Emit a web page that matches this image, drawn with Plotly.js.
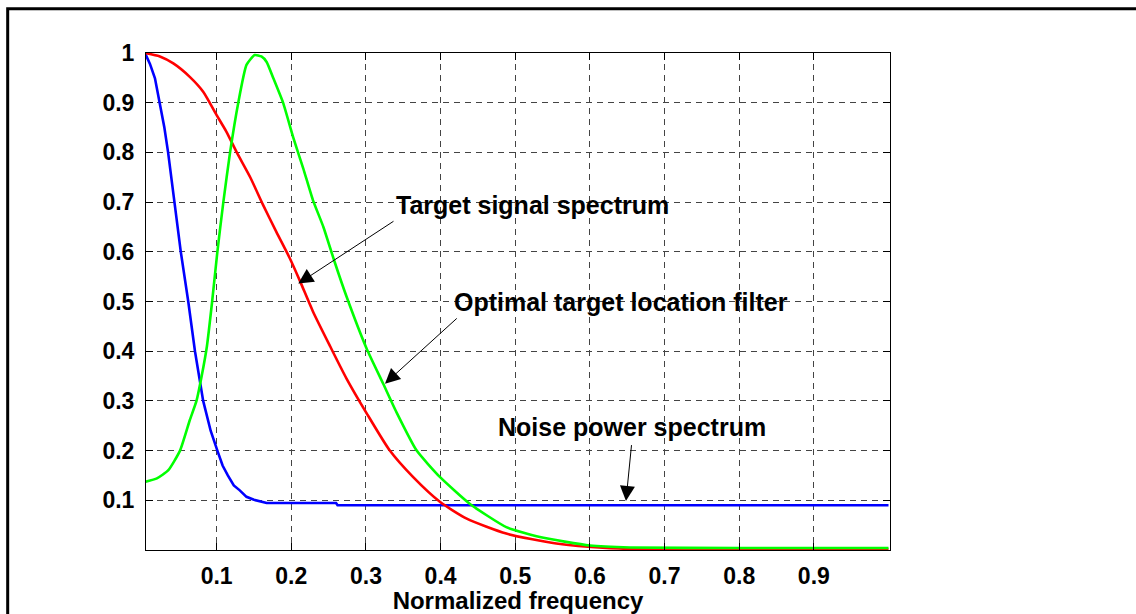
<!DOCTYPE html>
<html>
<head>
<meta charset="utf-8">
<script src="https://cdn.plot.ly/plotly-3.0.1.min.js"></script>
<style>html,body{margin:0;padding:0;background:#fff;}#chart{width:1136px;height:614px;}</style>
</head>
<body>
<div id="chart"></div>
<script>
// Normalized frequency samples and spectra
var noiseX = [0.004, 0.0107, 0.0174, 0.024, 0.030, 0.035, 0.043, 0.052, 0.062, 0.071, 0.082, 0.092, 0.101, 0.108, 0.115, 0.123, 0.131, 0.140, 0.150, 0.160, 0.167, 0.20, 0.26, 0.262, 0.50, 1.0];
var noiseY = [1.0, 0.978, 0.949, 0.90, 0.85, 0.80, 0.70, 0.60, 0.50, 0.40, 0.30, 0.24, 0.20, 0.17, 0.15, 0.13, 0.12, 0.107, 0.101, 0.097, 0.0946, 0.0946, 0.0946, 0.090, 0.090, 0.090];

var signalX = [0.004, 0.024, 0.042, 0.064, 0.082, 0.100, 0.113, 0.127, 0.145, 0.162, 0.180, 0.198, 0.212, 0.229, 0.252, 0.274, 0.301, 0.332, 0.363, 0.399, 0.435, 0.488, 0.555, 0.622, 0.70, 1.0];
var signalY = [1.0, 0.993, 0.979, 0.952, 0.922, 0.875, 0.842, 0.800, 0.750, 0.695, 0.640, 0.587, 0.540, 0.480, 0.410, 0.345, 0.275, 0.200, 0.147, 0.097, 0.063, 0.033, 0.013, 0.004, 0.001, 0.001];

var filterX = [0.004, 0.020, 0.035, 0.051, 0.064, 0.073, 0.080, 0.087, 0.094, 0.101, 0.109, 0.118, 0.129, 0.140, 0.151, 0.160, 0.167, 0.176, 0.189, 0.203, 0.216, 0.229, 0.243, 0.258, 0.274, 0.301, 0.323, 0.341, 0.368, 0.399, 0.439, 0.488, 0.533, 0.600, 0.654, 0.80, 1.0];
var filterY = [0.137, 0.144, 0.160, 0.200, 0.261, 0.300, 0.350, 0.410, 0.500, 0.600, 0.700, 0.800, 0.900, 0.976, 0.996, 0.993, 0.982, 0.949, 0.900, 0.828, 0.768, 0.704, 0.650, 0.580, 0.510, 0.405, 0.335, 0.277, 0.200, 0.147, 0.093, 0.046, 0.026, 0.009, 0.005, 0.004, 0.004];

var xTickVals = [0.1, 0.2, 0.3, 0.4, 0.5, 0.6, 0.7, 0.8, 0.9];
var xTickText = ['0.1', '0.2', '0.3', '0.4', '0.5', '0.6', '0.7', '0.8', '0.9'];
var yTickVals = [0.1, 0.2, 0.3, 0.4, 0.5, 0.6, 0.7, 0.8, 0.9, 1.0];
var yTickText = ['0.1', '0.2', '0.3', '0.4', '0.5', '0.6', '0.7', '0.8', '0.9', '1'];

var labels = ['Target signal spectrum', 'Optimal target location filter', 'Noise power spectrum'];
var labelX = [0.523, 0.6413, 0.6563];
var labelY = [0.6934, 0.4989, 0.2474];
var arrowTipX = [0.2094, 0.3255, 0.6483];
var arrowTipY = [0.536, 0.3347, 0.0986];
var arrowAX = [96.7, 73.3, 5.7];
var arrowAY = [-63.3, -66.6, -57.4];

var FONT = 'Liberation Sans, Arial, sans-serif';

var traces = [
  {x: noiseX, y: noiseY, type: 'scatter', mode: 'lines', line: {color: '#0000ff', width: 2.6}, name: 'Noise'},
  {x: signalX, y: signalY, type: 'scatter', mode: 'lines', line: {color: '#ff0000', width: 2.6, shape: 'spline', smoothing: 0.6}, name: 'Signal'},
  {x: filterX, y: filterY, type: 'scatter', mode: 'lines', line: {color: '#00ff00', width: 2.6, shape: 'spline', smoothing: 0.5}, name: 'Filter'}
];

var annotations = [];
for (var i = 0; i < labels.length; i++) {
  annotations.push({
    x: arrowTipX[i], y: arrowTipY[i], xref: 'x', yref: 'y',
    text: '', showarrow: true, ax: arrowAX[i], ay: arrowAY[i],
    arrowhead: 2, arrowsize: 3, arrowwidth: 1, arrowcolor: '#000', standoff: 0, startstandoff: 0
  });
  annotations.push({
    x: labelX[i], y: labelY[i], xref: 'x', yref: 'y',
    text: labels[i], showarrow: false, xanchor: 'center', yanchor: 'middle',
    font: {family: FONT, size: 25, color: '#000', weight: 'bold'}
  });
}

var layout = {
  width: 1136, height: 614,
  margin: {l: 146, r: 246, t: 53, b: 64, pad: 0},
  paper_bgcolor: '#fff', plot_bgcolor: '#fff',
  showlegend: false,
  font: {family: FONT, color: '#000'},
  xaxis: {
    range: [0.0054, 1.002], tickvals: xTickVals, ticktext: xTickText,
    showline: true, linecolor: '#000', linewidth: 1, mirror: 'ticks',
    ticks: 'inside', ticklen: 7, tickcolor: '#000',
    showgrid: true, gridcolor: '#444', griddash: '6px,5px', gridwidth: 1,
    zeroline: false,
    tickfont: {family: FONT, size: 23, color: '#000', weight: 'bold'},
    ticklabelstandoff: 5,
    title: {text: 'Normalized frequency', font: {family: FONT, size: 24, color: '#000', weight: 'bold'}, standoff: 0}
  },
  yaxis: {
    range: [0, 1], tickvals: yTickVals, ticktext: yTickText,
    showline: true, linecolor: '#000', linewidth: 1, mirror: 'ticks',
    ticks: 'inside', ticklen: 7, tickcolor: '#000',
    showgrid: true, gridcolor: '#444', griddash: '6px,5px', gridwidth: 1,
    zeroline: false,
    tickfont: {family: FONT, size: 23, color: '#000', weight: 'bold'},
    ticklabelstandoff: 6
  },
  annotations: annotations,
  shapes: [{
    type: 'rect', xref: 'paper', yref: 'paper',
    x0: -0.1859, x1: 1.40, y0: -0.2, y1: 1.0891,
    line: {color: '#000', width: 3}, fillcolor: 'rgba(0,0,0,0)', layer: 'above'
  }]
};

Plotly.newPlot('chart', traces, layout, {displayModeBar: false, staticPlot: true});
</script>
</body>
</html>
